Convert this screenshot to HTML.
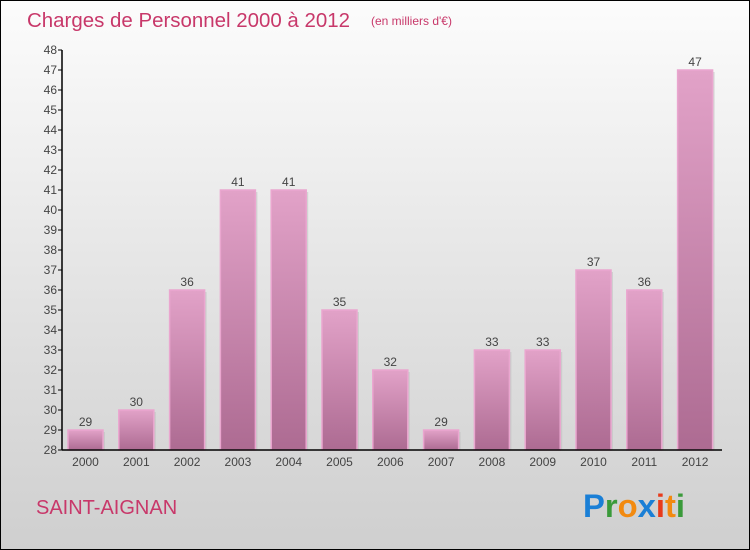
<!DOCTYPE html>
<html><head><meta charset="utf-8"><style>
body{margin:0;width:750px;height:550px;overflow:hidden;font-family:"Liberation Sans",sans-serif}
#frame{position:absolute;left:0;top:0;width:748px;height:548px;border:1px solid #000;background:linear-gradient(#fcfcfc,#e0e0e0 60%,#cfcfcf)}
</style></head><body>
<div id="frame"></div>
<svg width="750" height="550" style="position:absolute;left:0;top:0" id="chart">
<defs>
<linearGradient id="bg" x1="0" y1="0" x2="0" y2="1"><stop offset="0" stop-color="#e2a2c8"/><stop offset="1" stop-color="#ad6b92"/></linearGradient>
</defs>
<text x="27" y="27" font-size="20" fill="#c8386a" textLength="323" lengthAdjust="spacingAndGlyphs">Charges de Personnel 2000 à 2012</text>
<text x="371" y="25" font-size="12" fill="#c8386a">(en milliers d'€)</text>
<text x="36" y="514" font-size="20" fill="#c8386a">SAINT-AIGNAN</text>
<g font-size="32" font-weight="bold" font-family="Liberation Sans, sans-serif">
<text x="583" y="517" textLength="102" lengthAdjust="spacingAndGlyphs"><tspan fill="#1a7fd6">P</tspan><tspan fill="#3a9a3a">r</tspan><tspan fill="#f28a10">o</tspan><tspan fill="#1a7fd6">x</tspan><tspan fill="#e83a1a">i</tspan><tspan fill="#f28a10">t</tspan><tspan fill="#3a9a3a">i</tspan></text>
</g>
<g id="plot"></g>
</svg>
<script>
const categories=["2000","2001","2002","2003","2004","2005","2006","2007","2008","2009","2010","2011","2012"];
const values=[29,30,36,41,41,35,32,29,33,33,37,36,47];
const yTicks=[28,29,30,31,32,33,34,35,36,37,38,39,40,41,42,43,44,45,46,47,48];
const yMin=28,yMax=48,plotTop=50,plotBottom=450,plotLeft=62,plotRight=722;
const y=v=>plotBottom-(v-yMin)/(yMax-yMin)*(plotBottom-plotTop);
const x=i=>85.5+i*50.8;
const bw=35;
const g=document.getElementById('plot');
const ns='http://www.w3.org/2000/svg';
function mk(t,a){const e=document.createElementNS(ns,t);for(const k in a)e.setAttribute(k,a[k]);g.appendChild(e);return e;}
values.forEach((v,i)=>{
 mk('rect',{x:x(i)-bw/2+2,y:y(v)+2,width:bw,height:plotBottom-y(v)-2,fill:'#bbb',opacity:0.5});
 const b=mk('rect',{x:x(i)-bw/2,y:y(v),width:bw,height:plotBottom-y(v),fill:'url(#bg)',stroke:'#eaa6cf','stroke-width':1.5});
 
 
 const t=mk('text',{x:x(i),y:y(v)-4,'font-size':12,fill:'#444','text-anchor':'middle'});t.textContent=v;
 
 
 const c=mk('text',{x:x(i),y:plotBottom+16,'font-size':12,fill:'#444','text-anchor':'middle'});c.textContent=categories[i];
 
 
});
yTicks.forEach(v=>{
 mk('line',{x1:plotLeft-4,x2:plotLeft,y1:y(v),y2:y(v),stroke:'#000'});
 const t=mk('text',{x:plotLeft-5,y:y(v)+4,'font-size':12,fill:'#444','text-anchor':'end'});t.textContent=v;
 
 
});
const ya=mk('line',{x1:plotLeft,x2:plotLeft,y1:plotTop,y2:plotBottom,stroke:'#000','stroke-width':1.5});


const xa=mk('line',{x1:plotLeft,x2:plotRight,y1:plotBottom,y2:plotBottom,stroke:'#000','stroke-width':1.5});


</script>
</body></html>
